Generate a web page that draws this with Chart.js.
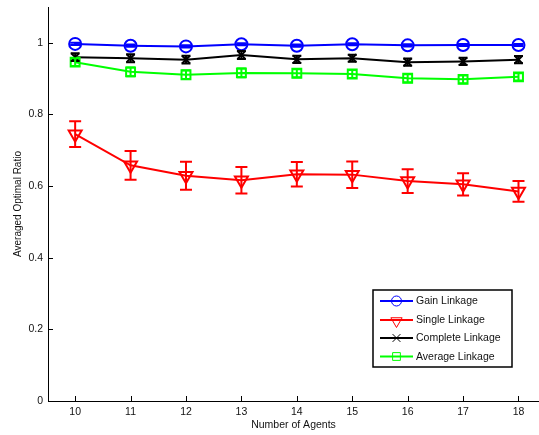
<!DOCTYPE html>
<html>
<head>
<meta charset="utf-8">
<script src="https://cdn.jsdelivr.net/npm/chart.js@4.4.1/dist/chart.umd.min.js"></script>
<style>
  html, body { margin: 0; padding: 0; background: #fff; overflow: hidden; }
  canvas { display: block; }
</style>
</head>
<body>
<canvas id="ratioChart" width="539" height="435"></canvas>
<script>
// ===== Data =====
const agents = [10, 11, 12, 13, 14, 15, 16, 17, 18];
const xTicks = [10, 11, 12, 13, 14, 15, 16, 17, 18];
const yTicks = [0, 0.2, 0.4, 0.6, 0.8, 1];

const gainLinkage     = [0.997, 0.992, 0.990, 0.996, 0.992, 0.996, 0.993, 0.994, 0.994];
const gainErr         = [0.003, 0.003, 0.003, 0.003, 0.003, 0.003, 0.003, 0.003, 0.003];
const singleLinkage   = [0.745, 0.658, 0.629, 0.616, 0.633, 0.632, 0.614, 0.605, 0.585];
const singleErr       = [0.036, 0.040, 0.039, 0.037, 0.034, 0.037, 0.033, 0.031, 0.029];
const completeLinkage = [0.960, 0.957, 0.953, 0.966, 0.954, 0.957, 0.946, 0.948, 0.953];
const completeErr     = [0.011, 0.011, 0.011, 0.011, 0.010, 0.010, 0.010, 0.010, 0.010];
const averageLinkage  = [0.946, 0.919, 0.911, 0.916, 0.915, 0.913, 0.901, 0.898, 0.905];
const averageErr      = [0.011, 0.012, 0.012, 0.012, 0.011, 0.011, 0.011, 0.011, 0.010];

const FONT = 'Liberation Sans, Arial, Helvetica, sans-serif';

function pts(vals) {
  return agents.map((a, i) => ({ x: a, y: vals[i] }));
}

// ===== error bars, drawn through the scales =====
const errorBars = {
  id: 'errorBars',
  afterDatasetsDraw(chart) {
    const { ctx, scales: { x, y } } = chart;
    ctx.save();
    chart.data.datasets.forEach(ds => {
      ctx.strokeStyle = ds.borderColor;
      ctx.lineWidth = 2;
      const cap = ds.capHalf;
      ds.data.forEach((p, i) => {
        const e = ds.errors[i];
        const px = x.getPixelForValue(p.x);
        const yTop = y.getPixelForValue(p.y + e);
        const yBot = y.getPixelForValue(p.y - e);
        ctx.beginPath();
        ctx.moveTo(px, yTop); ctx.lineTo(px, yBot);
        ctx.moveTo(px - cap, yTop); ctx.lineTo(px + cap, yTop);
        ctx.moveTo(px - cap, yBot); ctx.lineTo(px + cap, yBot);
        ctx.stroke();
      });
    });
    ctx.restore();
  }
};

// ===== inward tick marks (matlab style) =====
const innerTicks = {
  id: 'innerTicks',
  afterDraw(chart) {
    const { ctx, chartArea: a, scales: { x, y } } = chart;
    ctx.save();
    ctx.strokeStyle = '#000';
    ctx.lineWidth = 1;
    ctx.beginPath();
    xTicks.forEach(v => {
      const px = Math.round(x.getPixelForValue(v)) + 0.5;
      ctx.moveTo(px, a.bottom); ctx.lineTo(px, a.bottom - 5);
    });
    yTicks.forEach(v => {
      const py = Math.round(y.getPixelForValue(v)) + 0.5;
      ctx.moveTo(a.left, py); ctx.lineTo(a.left + 5, py);
    });
    ctx.stroke();
    ctx.restore();
  }
};

// ===== legend box inside the plot =====
const boxLegend = {
  id: 'boxLegend',
  afterDraw(chart) {
    const { ctx } = chart;
    const bx = 373, by = 290, bw = 139, bh = 77;
    ctx.save();
    ctx.fillStyle = '#fff';
    ctx.fillRect(bx, by, bw, bh);
    ctx.strokeStyle = '#000';
    ctx.lineWidth = 1.5;
    ctx.strokeRect(bx, by, bw, bh);
    const rows = [301, 320, 338, 356.5];
    chart.data.datasets.forEach((ds, i) => {
      const ly = rows[i];
      ctx.strokeStyle = ds.borderColor;
      ctx.lineWidth = 2;
      ctx.beginPath();
      ctx.moveTo(380, ly); ctx.lineTo(413, ly);
      ctx.stroke();
      ctx.lineWidth = 1;
      ctx.fillStyle = 'rgba(0,0,0,0)';
      Chart.helpers.drawPoint(ctx, {
        pointStyle: ds.pointStyle,
        rotation: ds.pointRotation || 0,
        radius: ds.legendRadius,
        borderWidth: 1
      }, 396.5, ly + (ds.legendShift || 0));
      ctx.fillStyle = '#111';
      ctx.font = '10.5px ' + FONT;
      ctx.textBaseline = 'middle';
      ctx.textAlign = 'left';
      ctx.fillText(ds.label, 416, ly + 0.5);
    });
    ctx.restore();
  }
};

const ctx = document.getElementById('ratioChart').getContext('2d');
new Chart(ctx, {
  type: 'line',
  data: {
    datasets: [
      {
        label: 'Gain Linkage',
        data: pts(gainLinkage),
        errors: gainErr, capHalf: 5,
        borderColor: '#0000ff', backgroundColor: 'rgba(0,0,0,0)',
        borderWidth: 2, pointStyle: 'circle', pointRadius: 6,
        pointBorderWidth: 2, legendRadius: 5, order: 3
      },
      {
        label: 'Single Linkage',
        data: pts(singleLinkage),
        errors: singleErr, capHalf: 6,
        borderColor: '#ff0000', backgroundColor: 'rgba(0,0,0,0)',
        borderWidth: 2, pointStyle: 'triangle', pointRotation: 180,
        pointRadius: 7.5, pointBorderWidth: 2, legendRadius: 6.5, legendShift: 1, order: 2
      },
      {
        label: 'Complete Linkage',
        data: pts(completeLinkage),
        errors: completeErr, capHalf: 4.5,
        borderColor: '#000000', backgroundColor: 'rgba(0,0,0,0)',
        borderWidth: 2, pointStyle: 'crossRot', pointRadius: 5.5,
        pointBorderWidth: 2, legendRadius: 5.5, order: 1
      },
      {
        label: 'Average Linkage',
        data: pts(averageLinkage),
        errors: averageErr, capHalf: 4.5,
        borderColor: '#00ff00', backgroundColor: 'rgba(0,0,0,0)',
        borderWidth: 2, pointStyle: 'rect', pointRadius: 6.3,
        pointBorderWidth: 2, legendRadius: 5.5, order: 0
      }
    ]
  },
  options: {
    responsive: false,
    animation: false,
    layout: { autoPadding: false, padding: { top: 7, right: 0, bottom: 0, left: 0 } },
    plugins: {
      legend: { display: false },
      tooltip: { enabled: false }
    },
    elements: { line: { tension: 0 } },
    scales: {
      x: {
        type: 'linear',
        min: 9.51,
        max: 18.37,
        afterBuildTicks: s => { s.ticks = xTicks.map(v => ({ value: v })); },
        afterFit: s => { s.height = 34; s.paddingLeft = 0; s.paddingRight = 0; },
        grid: { display: false, drawTicks: false },
        border: { display: true, color: '#000', width: 1 },
        ticks: { padding: 5, color: '#111', font: { family: FONT, size: 10.5 } },
        title: {
          display: true,
          text: 'Number of Agents',
          color: '#111',
          font: { family: FONT, size: 10.5, lineHeight: 1.2 },
          padding: { top: 0, bottom: 4 }
        }
      },
      y: {
        min: 0,
        max: 1.1,
        afterBuildTicks: s => { s.ticks = yTicks.map(v => ({ value: v })); },
        afterFit: s => { s.width = 48; s.paddingTop = 0; s.paddingBottom = 0; },
        grid: { display: false, drawTicks: false },
        border: { display: true, color: '#000', width: 1 },
        ticks: {
          padding: 5, color: '#111', font: { family: FONT, size: 10.5 },
          callback: v => String(v)
        },
        title: {
          display: true,
          text: 'Averaged Optimal Ratio',
          color: '#111',
          font: { family: FONT, size: 10, lineHeight: 1.2 },
          padding: { top: 12, bottom: 0 }
        }
      }
    }
  },
  plugins: [errorBars, innerTicks, boxLegend]
});
</script>
</body>
</html>
